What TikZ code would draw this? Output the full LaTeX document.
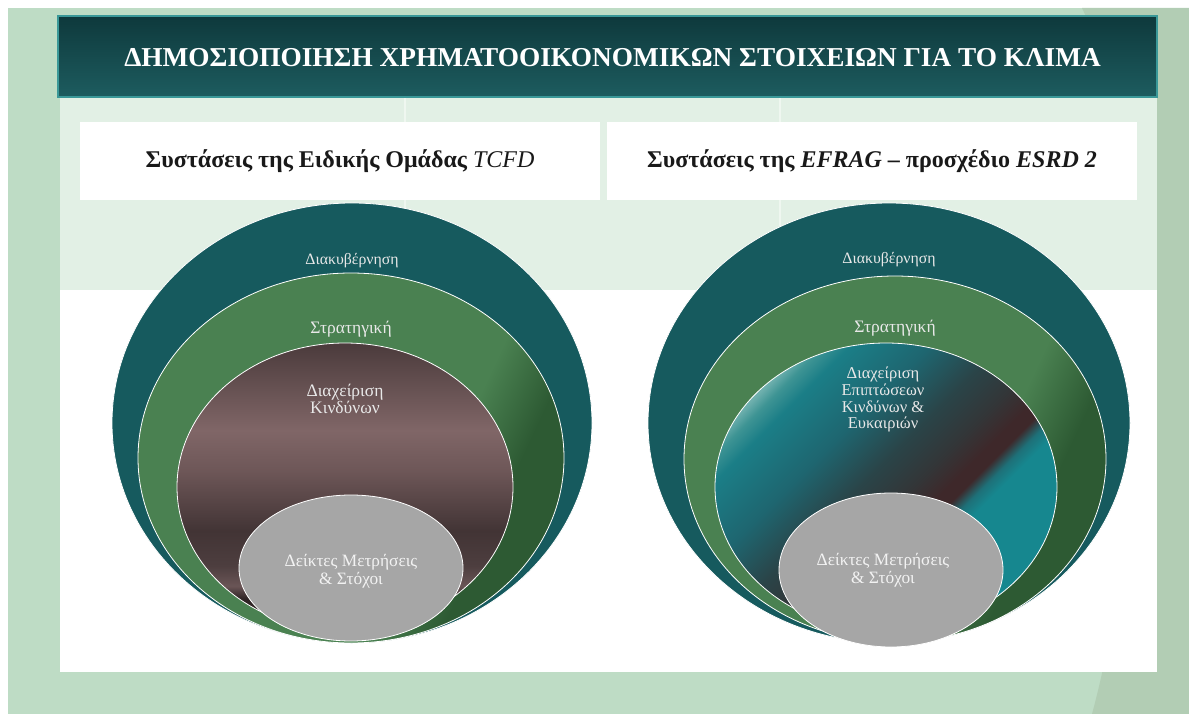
\documentclass[tikz,border=0pt]{standalone}
\usepackage{fontspec}
\setmainfont{Liberation Serif}
\usepackage{xcolor}
\usetikzlibrary{shapes,calc}

\definecolor{bggreen}{HTML}{BEDCC5}
\definecolor{bgdark}{HTML}{B2CDB4}
\definecolor{mint}{HTML}{E2F0E5}
\definecolor{mintline}{HTML}{EFF7F0}
\definecolor{titletop}{HTML}{0E393C}
\definecolor{titlebot}{HTML}{1D5C5F}
\definecolor{titleedge}{HTML}{3A9898}
\definecolor{govteal}{HTML}{165A5E}
\definecolor{stratgreen}{HTML}{4A8151}
\definecolor{stratdark}{HTML}{2D5A33}
\definecolor{metricgray}{HTML}{A6A6A6}
\definecolor{labelgray}{HTML}{E8E8E8}

% vertical bands of the left risk ellipse (bottom to top)
\definecolor{rkA}{HTML}{3A2D2E}
\definecolor{rkB}{HTML}{2E2324}
\definecolor{rkC}{HTML}{6A5556}
\definecolor{rkD}{HTML}{4D3E3F}
\definecolor{rkE}{HTML}{423435}
\definecolor{rkF}{HTML}{6E5758}
\definecolor{rkG}{HTML}{806667}
\definecolor{rkH}{HTML}{4B3B3C}
\pgfdeclareverticalshading{riskband}{100bp}{color(0bp)=(rkA); color(25bp)=(rkA); color(30.6bp)=(rkB); color(32.8bp)=(rkC); color(36.3bp)=(rkD); color(42.4bp)=(rkE); color(52.9bp)=(rkF); color(59.8bp)=(rkG); color(75bp)=(rkH); color(100bp)=(rkH)}

% diagonal bands of the right impact ellipse
\definecolor{imA}{HTML}{6FB0AE}
\definecolor{imB}{HTML}{3E9494}
\definecolor{imC}{HTML}{1B7E87}
\definecolor{imD}{HTML}{1E6670}
\definecolor{imE}{HTML}{2A4448}
\definecolor{imF}{HTML}{333638}
\definecolor{imG}{HTML}{3E282A}
\definecolor{imH}{HTML}{1E7078}
\definecolor{imI}{HTML}{16878F}
\pgfdeclarehorizontalshading{impactband}{100bp}{color(0bp)=(imA); color(25bp)=(imA); color(27bp)=(imB); color(30bp)=(imC); color(39bp)=(imD); color(47bp)=(imE); color(53bp)=(imF); color(57bp)=(imG); color(59bp)=(imG); color(61bp)=(imH); color(63bp)=(imI); color(100bp)=(imI)}

\pgfdeclarehorizontalshading{stratband}{100bp}{color(0bp)=(stratgreen); color(61bp)=(stratgreen); color(69bp)=(stratdark); color(100bp)=(stratdark)}

\tikzstyle{ring} = [ellipse, draw=white, line width=0.8pt, inner sep=0pt]
\tikzstyle{lbl} = [text=labelgray, align=center, inner sep=0pt, font=\fontsize{17}{17}\selectfont]
\tikzstyle{hdr} = [rectangle, fill=white, minimum height=78pt, text=black!90, font=\fontsize{24}{28}\selectfont\bfseries]
\tikzstyle{titlebar} = [rectangle, draw=titleedge, line width=1.2pt, top color=titletop, bottom color=titlebot, minimum width=1099pt, minimum height=81pt]
\tikzstyle{titletext} = [text=white, inner sep=0pt, font=\fontsize{27.3}{32}\selectfont\bfseries]

\begin{document}
\begin{tikzpicture}[x=1pt,y=-1pt]
\useasboundingbox (0,0) rectangle (1189,714);

% background
\fill [bggreen] (8,8) rectangle (1189,714);
\fill [bgdark] (1082,8) -- (1189,8) -- (1189,714) -- (1092,714) .. controls (1150,500) and (1150,150) .. (1082,8);
\fill [mint] (60,97) rectangle (1157,290);
\fill [white] (60,290) rectangle (1157,672);
\draw [mintline, line width=1.5pt] (405,97) -- (405,290);
\draw [mintline, line width=1.5pt] (780,97) -- (780,290);

\node [titlebar] (title) at (607.5,56.5) {};
\node [titletext] (titletxt) at ($(title)+(5,1)$) {ΔΗΜΟΣΙΟΠΟΙΗΣΗ ΧΡΗΜΑΤΟΟΙΚΟΝΟΜΙΚΩΝ ΣΤΟΙΧΕΙΩΝ ΓΙΑ ΤΟ ΚΛΙΜΑ};

\node [hdr, minimum width=520pt] (hdrL) at (340,161) {Συστάσεις της Ειδικής Ομάδας \textit{\mdseries TCFD}};
\node [hdr, minimum width=530pt] (hdrR) at (872,161) {Συστάσεις της \textit{EFRAG} – προσχέδιο \textit{ESRD 2}};

% TCFD rings
\node [ring, fill=govteal, minimum width=480pt, minimum height=440pt] (govL) at (352,423) {};
\node [ring, shade, shading=stratband, shading angle=-25, minimum width=426pt, minimum height=370pt] (strL) at (351,458) {};
\node [ring, shade, shading=riskband, minimum width=336pt, minimum height=288pt] (riskL) at (345,487) {};
\node [ring, fill=metricgray, minimum width=224pt, minimum height=146pt] (metL) at (351,568) {};

\node [lbl, font=\fontsize{15.8}{16}\selectfont] (govLtxt) at ($(govL.north)+(0,58)$) {Διακυβέρνηση};
\node [lbl, font=\fontsize{17.5}{18}\selectfont] (strLtxt) at ($(strL.north)+(0,57)$) {Στρατηγική};
\node [lbl, font=\fontsize{17.5}{17}\selectfont] (riskLtxt) at ($(riskL.north)+(0,56)$) {Διαχείριση\\Κινδύνων};
\node [lbl, text=white!95!black, font=\fontsize{17.3}{18}\selectfont] (metLtxt) at ($(metL)+(0,3)$) {Δείκτες Μετρήσεις\\\& Στόχοι};

% EFRAG rings
\node [ring, fill=govteal, minimum width=482pt, minimum height=440pt] (govR) at (889,423) {};
\node [ring, shade, shading=stratband, shading angle=-25, minimum width=422pt, minimum height=366pt] (strR) at (895,459) {};
\node [ring, shade, shading=impactband, shading angle=-45, minimum width=342pt, minimum height=288pt] (riskR) at (886,487) {};
\node [ring, fill=metricgray, minimum width=224pt, minimum height=154pt] (metR) at (891,570) {};

\node [lbl, font=\fontsize{15.8}{16}\selectfont] (govRtxt) at ($(govR.north)+(0,57)$) {Διακυβέρνηση};
\node [lbl, font=\fontsize{17.5}{18}\selectfont] (strRtxt) at ($(strR.north)+(0,53)$) {Στρατηγική};
\node [lbl, font=\fontsize{16.5}{16.7}\selectfont] (riskRtxt) at ($(riskR.north)+(-3,57)$) {Διαχείριση\\Επιπτώσεων\\Κινδύνων \&\\Ευκαιριών};
\node [lbl, text=white!95!black, font=\fontsize{17.3}{18}\selectfont] (metRtxt) at ($(metR)+(-8,0)$) {Δείκτες Μετρήσεις\\\& Στόχοι};

\end{tikzpicture}
\end{document}
